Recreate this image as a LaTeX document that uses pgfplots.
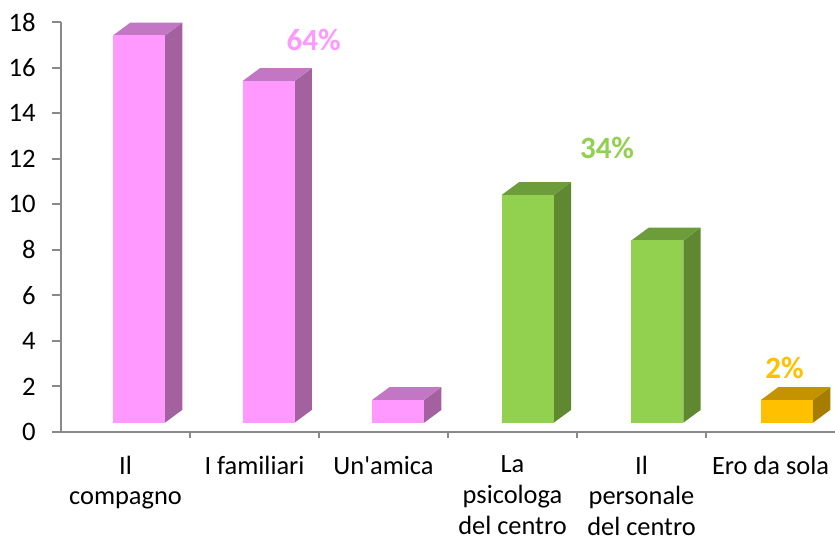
\documentclass[border=0pt]{standalone}
\usepackage{pgfplots}
\pgfplotsset{compat=1.18}
\usepackage{fontspec}
\setmainfont{Carlito}[Ligatures=TeXOff]
\definecolor{pkF}{HTML}{FF99FF}
\definecolor{pkS}{HTML}{A3619F}
\definecolor{pkT}{HTML}{C276C4}
\definecolor{grF}{HTML}{92D050}
\definecolor{grS}{HTML}{5F8831}
\definecolor{grT}{HTML}{6D9C3A}
\definecolor{orF}{HTML}{FFC000}
\definecolor{orS}{HTML}{A67D00}
\definecolor{orT}{HTML}{C69300}
\definecolor{axg}{HTML}{898989}
% #1 category index, #2 value, #3 front, #4 side, #5 top colour
\newcommand\bthreed[5]{%
  \pgfmathsetmacro\xa{#1+0.403+0.0047*#1}%
  \pgfmathsetmacro\xb{\xa+0.403}%
  \pgfmathsetmacro\xc{\xb+0.134}%
  \pgfmathsetmacro\xd{\xa+0.134}%
  \pgfmathsetmacro\yb{#2+0.41}%
  \pgfmathsetmacro\yd{#2+0.97}%
  \edef\tmp{%
    \noexpand\addplot[fill=#4,draw=none] coordinates {(\xb,0.41) (\xc,0.97) (\xc,\yd) (\xb,\yb)};
    \noexpand\addplot[fill=#5,draw=none] coordinates {(\xa,\yb) (\xb,\yb) (\xc,\yd) (\xd,\yd)};
    \noexpand\addplot[fill=#3,draw=none] coordinates {(\xa,0.41) (\xb,0.41) (\xb,\yb) (\xa,\yb)};
  }\tmp}
\begin{document}
\begin{tikzpicture}
\path[use as bounding box] (-45.75pt,-81.75pt) rectangle (580.5pt,324pt);
\begin{axis}[
  at={(0,0)}, anchor=south west,
  scale only axis, width=580.5pt, height=307.5pt,
  xmin=0, xmax=6, ymin=0, ymax=18,
  clip=false,
  axis lines=left,
  axis line style={-, draw=axg, line width=1.5pt},
  tick align=outside,
  ytick={0,2,...,18},
  major tick length=6.75pt,
  minor tick length=4.5pt,
  y tick style={draw=axg, line width=1.5pt},
  xtick={0.5,1.5,...,5.5},
  xticklabels={{Il\\compagno},{I familiari},{Un'amica},{La\\psicologa\\del centro},{Il\\personale\\del centro},{Ero da sola}},
  minor xtick={1,2,3,4,5},
  major x tick style={draw=none},
  minor x tick style={draw=axg, line width=1.5pt},
  /pgf/number format/assume math mode=true,
  yticklabel style={font=\fontsize{20pt}{24pt}\selectfont, anchor=east, inner sep=0pt, xshift=-12pt},
  xticklabel style={font=\fontsize{19.8pt}{23pt}\selectfont, align=center, anchor=north, inner sep=0pt, yshift=-11pt},
]
\bthreed{0}{17}{pkF}{pkS}{pkT}
\bthreed{1}{15}{pkF}{pkS}{pkT}
\bthreed{2}{1}{pkF}{pkS}{pkT}
\bthreed{3}{10}{grF}{grS}{grT}
\bthreed{4}{8}{grF}{grS}{grT}
\bthreed{5}{1}{orF}{orS}{orT}
\node[text=pkF, font=\fontsize{23.25pt}{28pt}\selectfont\bfseries] at (axis cs:1.959,17.21) {64\%};
\node[text=grF, font=\fontsize{23.25pt}{28pt}\selectfont\bfseries] at (axis cs:4.233,12.49) {34\%};
\node[text=orF, font=\fontsize{23.25pt}{28pt}\selectfont\bfseries] at (axis cs:5.609,2.81) {2\%};
\end{axis}
\end{tikzpicture}
\end{document}
